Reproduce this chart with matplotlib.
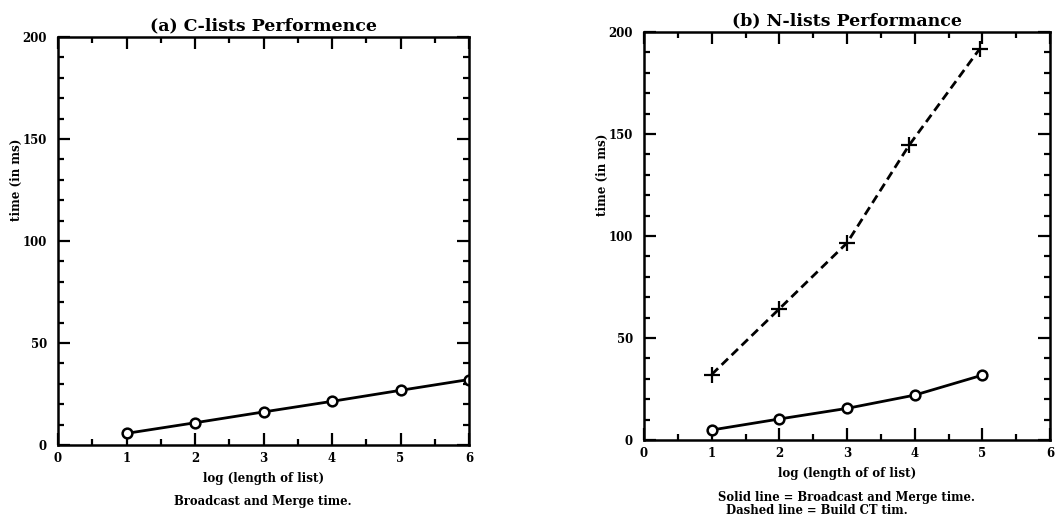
import matplotlib
matplotlib.use("Agg")
import matplotlib.pyplot as plt
from matplotlib.ticker import MultipleLocator

plt.rcParams['font.family'] = ['DejaVu Serif']
plt.rcParams['font.weight'] = 'bold'

# (a) C-lists
c_x = [1, 2, 3, 4, 5, 6]
c_merge = [5.7, 10.9, 16.2, 21.4, 26.8, 32.1]

# (b) N-lists
n_x = [1, 2, 3, 4, 5]
n_merge = [4.9, 10.3, 15.5, 22.0, 31.8]
n_build_x = [1, 2, 3, 3.92, 4.96]
n_build = [32.1, 64.3, 96.6, 144.6, 191.7]

W, H = 1055, 517
fig = plt.figure(figsize=(W / 100, H / 100), dpi=100)

ax1 = fig.add_axes([58 / W, (H - 445) / H, 411 / W, 408 / H])
ax2 = fig.add_axes([644 / W, (H - 440) / H, 406 / W, 408 / H])


def style(ax):
    ax.set_xlim(0, 6)
    ax.set_ylim(0, 200)
    ax.xaxis.set_major_locator(MultipleLocator(1))
    ax.xaxis.set_minor_locator(MultipleLocator(0.5))
    ax.yaxis.set_major_locator(MultipleLocator(50))
    ax.yaxis.set_minor_locator(MultipleLocator(10))
    ax.tick_params(which='both', direction='in', top=True, right=True,
                   width=1.6, labelsize=8.5, color='black')
    ax.tick_params(which='major', length=8.5)
    ax.tick_params(axis='y', which='major', pad=8)
    ax.tick_params(axis='x', which='major', pad=5)
    ax.tick_params(which='minor', length=4.5)
    for s in ax.spines.values():
        s.set_linewidth(1.8)
    for lab in ax.get_xticklabels() + ax.get_yticklabels():
        lab.set_fontweight('bold')


style(ax1)
ax1.plot(c_x, c_merge, '-', color='black', lw=2, marker='o', ms=7,
         mfc='white', mec='black', mew=1.8)
ax1.set_title('(a) C-lists Performence', fontsize=12.5, fontweight='bold', pad=5)
ax1.set_xlabel('log (length of list)', fontsize=8.6, fontweight='bold', labelpad=5)
fig.text(16 / W, 1 - 180 / H, 'time (in ms)', rotation=90, ha='center',
         va='center', fontsize=8.6, fontweight='bold')
fig.text(263 / W, 1 - 502 / H, 'Broadcast and Merge time.', ha='center',
         va='center', fontsize=8.4, fontweight='bold')

style(ax2)
ax2.plot(n_x, n_merge, '-', color='black', lw=2, marker='o', ms=7,
         mfc='white', mec='black', mew=1.8)
ax2.plot(n_build_x, n_build, '--', color='black', lw=2, dashes=(3.2, 1.8),
         marker='+', ms=12, mew=1.6)
ax2.set_title('(b) N-lists Performance', fontsize=12.5, fontweight='bold', pad=5)
ax2.set_xlabel('log (length of of list)', fontsize=8.6, fontweight='bold', labelpad=5)
fig.text(602 / W, 1 - 175 / H, 'time (in ms)', rotation=90, ha='center',
         va='center', fontsize=8.6, fontweight='bold')
fig.text(718 / W, 1 - 497 / H, 'Solid line = Broadcast and Merge time.',
         ha='left', va='center', fontsize=8.4, fontweight='bold')
fig.text(726 / W, 1 - 511 / H, 'Dashed line = Build CT tim.',
         ha='left', va='center', fontsize=8.4, fontweight='bold')

fig.savefig('out.png', dpi=100)
